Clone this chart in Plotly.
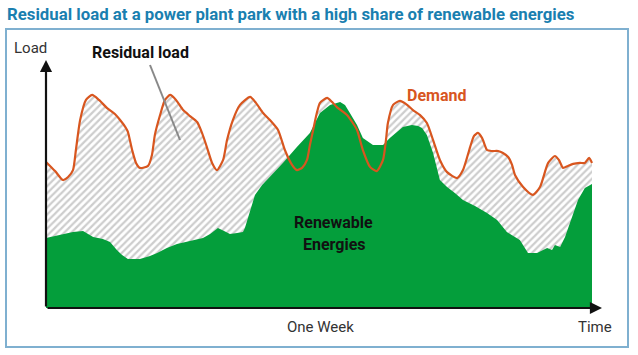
import plotly.graph_objects as go

# ---- data (x in hours over one week, load in arbitrary units 0-100) ----
PX_PER_H = 3.25
PX_PER_U = 2.48
X0, Y0 = 46, 308

demand_px = [(46,162),(55,171),(63,180),(68,177),(73,170),(76,150),(80,120),(86,100),(92,95),(99,100),
             (107,108),(115,114),(120,120),(126,128),(128,132),(132,150),(136,163),(140,168),(148,166),
             (152,155),(155,135),(160,115),(165,100),(170,95),(176,100),(183,110),(190,116),(197,122),
             (202,133),(207,147),(212,163),(217,170),(223,160),(227,140),(233,120),(240,105),(250,97),
             (256,103),(263,113),(270,120),(278,130),(285,150),(292,165),(297,170),(302,168),(307,160),
             (310,145),(313,130),(317,112),(320,103),(327,98),(332,102),(337,107),(342,111),(347,115),
             (352,122),(357,130),(363,150),(370,167),(377,171),(383,160),(386,140),(388,123),(393,105),
             (400,101),(407,105),(413,110),(420,115),(427,123),(433,140),(440,160),(447,172),(457,178),
             (463,170),(470,147),(474,136),(478,133),(482,138),(487,150),(492,151),(498,151),(503,153),
             (508,157),(512,165),(515,175),(523,187),(533,195),(540,187),(548,163),(555,156),(559,160),
             (563,168),(568,166),(573,164),(580,163),(585,163),(589,158),(592,163)]
renew_px = [(46,238),(60,235),(73,232),(83,231),(93,237),(103,239),(110,242),(117,250),(122,255),(128,259),
            (140,259),(150,256),(157,253),(167,248),(177,244),(190,241),(203,238),(210,234),(218,228),
            (224,231),(230,234),(237,233),(243,232),(245,228),(250,210),(255,195),(262,185),(270,177),
            (283,163),(297,147),(310,133),(320,113),(330,105),(340,102),(345,105),(350,113),(357,125),
            (363,138),(373,145),(383,145),(390,138),(397,132),(403,127),(412,125),(418,126),(422,128),
            (427,135),(433,153),(440,180),(447,187),(455,193),(463,200),(475,206),(487,213),(497,220),
            (507,232),(514,236),(520,240),(528,253),(537,253),(547,248),(552,250),(555,245),(560,247),
            (565,237),(570,223),(578,200),(585,188),(592,184)]

demand_hours = [round((p[0]-X0)/PX_PER_H, 1) for p in demand_px]
demand_load = [round((Y0-p[1])/PX_PER_U, 1) for p in demand_px]
renew_hours = [round((p[0]-X0)/PX_PER_H, 1) for p in renew_px]
renew_load = [round((Y0-p[1])/PX_PER_U, 1) for p in renew_px]

X_MAX = (602-X0)/PX_PER_H
Y_MAX = (Y0-60)/PX_PER_U

W, H = 638, 355
ML, MR, MT, MB = 46, W-602, 60, H-308
PW, PH = W-ML-MR, H-MT-MB

def px(x):
    return (x-ML)/PW
def py(y):
    return (H-MB-y)/PH

GREEN = "#049e3b"
ORANGE = "#d8561f"

fig = go.Figure()
# hatched residual load (demand area), then renewables drawn on top
fig.add_trace(go.Scatter(x=demand_hours, y=demand_load, mode="lines",
                         line=dict(width=0, shape="spline", smoothing=0.6),
                         fill="tozeroy", fillcolor="white",
                         fillpattern=dict(shape="/", fgcolor="#9c9c9c", bgcolor="white", size=5, solidity=0.45),
                         hoverinfo="skip", showlegend=False))
fig.add_trace(go.Scatter(x=renew_hours, y=renew_load, mode="lines", line=dict(width=0, color=GREEN),
                         fill="tozeroy", fillcolor=GREEN, hoverinfo="skip", showlegend=False))
fig.add_trace(go.Scatter(x=demand_hours, y=demand_load, mode="lines",
                         line=dict(color=ORANGE, width=2.2, shape="spline", smoothing=0.6),
                         hoverinfo="skip", showlegend=False))

fig.update_xaxes(range=[0, X_MAX], visible=False, fixedrange=True)
fig.update_yaxes(range=[0, Y_MAX], visible=False, fixedrange=True)

annotations = []
# axes with arrows
annotations.append(dict(x=X_MAX, y=0, ax=0, ay=0, xref="x", yref="y", axref="x", ayref="y",
                        text="", showarrow=True, arrowhead=2, arrowsize=1.1, arrowwidth=2.2, arrowcolor="#111"))
annotations.append(dict(x=0, y=Y_MAX, ax=0, ay=0, xref="x", yref="y", axref="x", ayref="y",
                        text="", showarrow=True, arrowhead=2, arrowsize=1.1, arrowwidth=2.2, arrowcolor="#111"))

LBL = "Roboto, Arial, sans-serif"
def txt(text, x, y, size, color, bold=False, xanchor="center"):
    annotations.append(dict(x=px(x), y=py(y), xref="paper", yref="paper", text=(f"<b>{text}</b>" if bold else text),
                            showarrow=False, xanchor=xanchor, yanchor="middle",
                            font=dict(family=LBL, size=size, color=color)))

txt("Residual load at a power plant park with a high share of renewable energies", 5, 14, 16.8, "#1a7fb0", True, "left")
txt("Load", 30, 48, 15, "#333")
txt("Residual load", 140, 52, 16, "#111", True)
txt("Demand", 436, 95, 16, ORANGE, True)
txt("Renewable", 333, 222, 16, "#111", True)
txt("Energies", 334, 244, 16, "#111", True)
txt("One Week", 320, 327, 15, "#333")
txt("Time", 595, 327, 15, "#333")

shapes = [
    dict(type="rect", xref="paper", yref="paper", x0=px(6), x1=px(628), y0=py(347), y1=py(29),
         line=dict(color="#7fb0d0", width=2), fillcolor="rgba(0,0,0,0)", layer="below"),
    dict(type="line", xref="paper", yref="paper", x0=px(150), y0=py(65), x1=px(180), y1=py(140),
         line=dict(color="#888", width=2)),
]

fig.update_layout(width=W, height=H, margin=dict(l=ML, r=MR, t=MT, b=MB),
                  paper_bgcolor="white", plot_bgcolor="white",
                  annotations=annotations, shapes=shapes, showlegend=False)

fig.write_html("out.html", config={"displayModeBar": False, "staticPlot": True},
               post_script="document.body.style.margin='0';document.body.style.overflow='hidden';")
